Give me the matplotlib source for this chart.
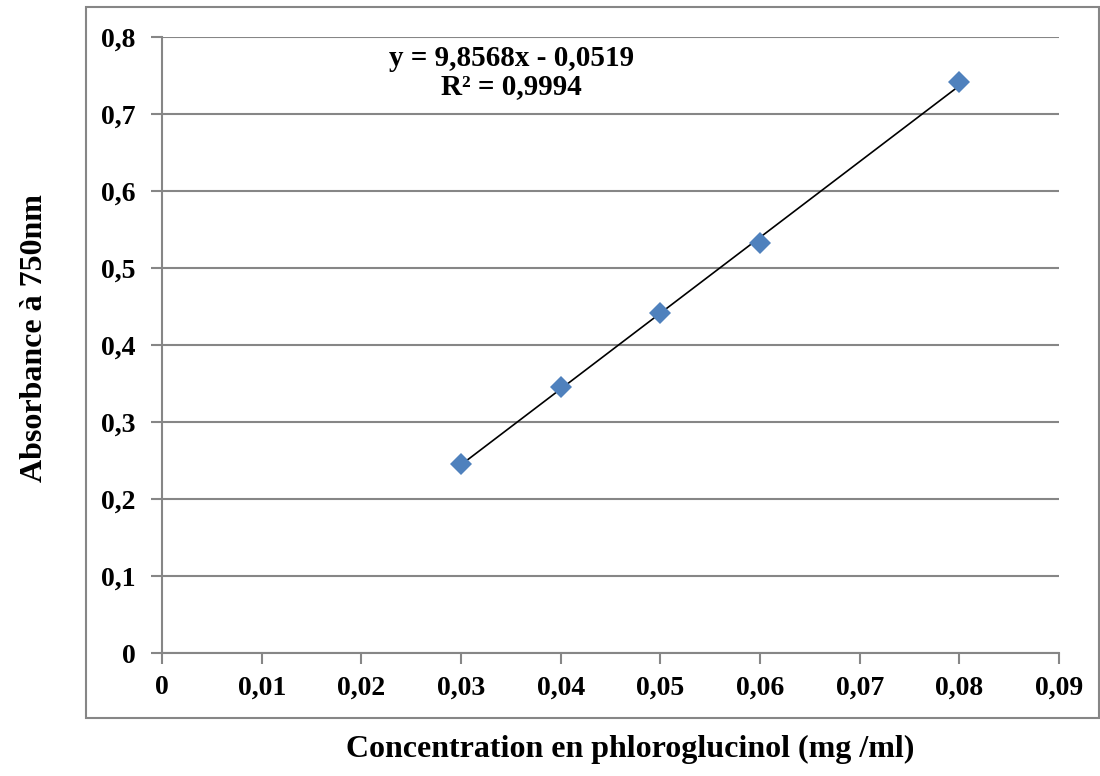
import numpy as np
import matplotlib.pyplot as plt
from matplotlib.patches import Rectangle

# Calibration data
concentration = [0.03, 0.04, 0.05, 0.06, 0.08]
absorbance = [0.246, 0.345, 0.441, 0.532, 0.741]
equation_text = "y = 9,8568x - 0,0519\nR² = 0,9994"

x_ticks = [0, 0.01, 0.02, 0.03, 0.04, 0.05, 0.06, 0.07, 0.08, 0.09]
x_labels = ["0", "0,01", "0,02", "0,03", "0,04", "0,05", "0,06", "0,07", "0,08", "0,09"]
y_ticks = [0, 0.1, 0.2, 0.3, 0.4, 0.5, 0.6, 0.7, 0.8]
y_labels = ["0", "0,1", "0,2", "0,3", "0,4", "0,5", "0,6", "0,7", "0,8"]

plt.rcParams['font.family'] = ['Liberation Serif', 'DejaVu Serif']
plt.rcParams['font.weight'] = 'bold'

grid_col = '#868686'

fig = plt.figure(figsize=(11, 7.76), dpi=100)
ax = fig.add_axes([0.1473, 0.1585, 0.8154, 0.7938])

# outer chart frame
fig.patches.append(Rectangle((0.0782, 0.0747), 0.9205, 0.9163, transform=fig.transFigure,
                             fill=False, edgecolor=grid_col, linewidth=1.5))

# linear trendline from the data
slope, intercept = np.polyfit(concentration, absorbance, 1)
xs = np.array([min(concentration), max(concentration)])
ax.plot(xs, slope * xs + intercept, color='black', linewidth=1.2, zorder=3)
ax.plot(concentration, absorbance, 'D', color='#4F81BD', markersize=11,
        markeredgewidth=0, zorder=4)

ax.set_xlim(0, 0.09)
ax.set_ylim(0, 0.8)
ax.set_xticks(x_ticks)
ax.set_xticklabels(x_labels)
ax.set_yticks(y_ticks)
ax.set_yticklabels(y_labels)
ax.tick_params(labelsize=20, color=grid_col, length=8, width=1.5)
ax.tick_params(axis='y', pad=11)
ax.tick_params(axis='x', pad=8)
ax.yaxis.grid(True, color=grid_col, linewidth=1.5)
ax.set_axisbelow(True)
for s in ['top', 'right']:
    ax.spines[s].set_visible(False)
for s in ['left', 'bottom']:
    ax.spines[s].set_color(grid_col)
    ax.spines[s].set_linewidth(1.5)

ax.text(0.0351, 0.754, equation_text, ha='center', va='center', fontsize=21,
        fontweight='bold', linespacing=1.05)

fig.text(0.573, 0.034, 'Concentration en phloroglucinol (mg /ml)', ha='center',
         va='center', fontsize=23, fontweight='bold')
fig.text(0.031, 0.564, 'Absorbance à 750nm', ha='center', va='center',
         rotation=90, fontsize=23, fontweight='bold')

fig.savefig('out.png', dpi=100)
